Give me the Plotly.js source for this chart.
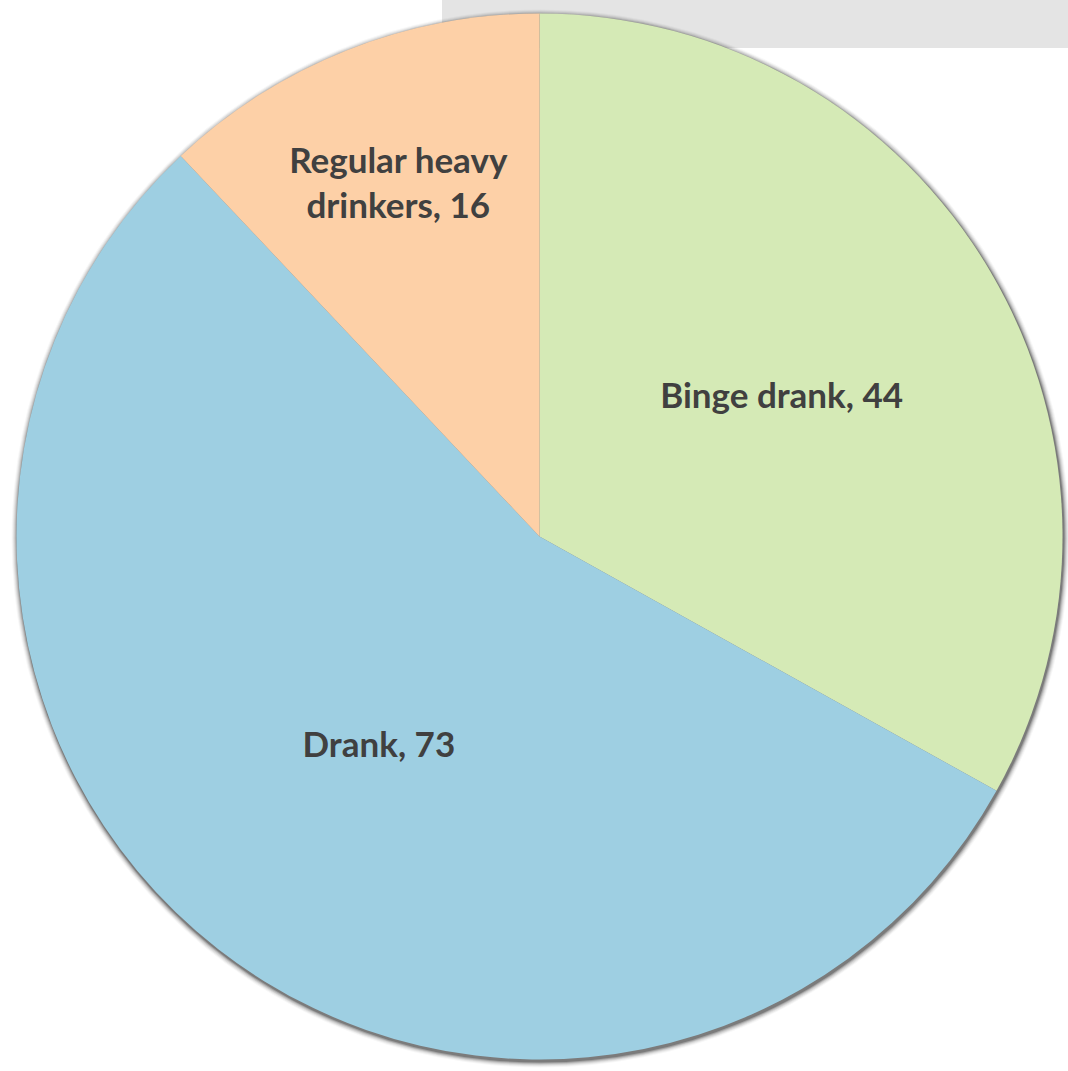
<!DOCTYPE html>
<html>
<head>
<meta charset="utf-8">
<script src="https://cdn.plot.ly/plotly-3.0.1.min.js"></script>
<style>html,body{margin:0;padding:0;background:#fff;}#chart{width:1068px;height:1071px;}</style>
</head>
<body>
<div id="chart"></div>
<script>
var categories = ["Binge drank", "Drank", "Regular heavy drinkers"];
var labelText = ["Binge drank", "Drank", "Regular heavy<br>drinkers"];
var values = [44, 73, 16];
var colors = ["#d5eab6", "#9ecfe2", "#fdd0a7"];

var W = 1068, H = 1071;
var cx = 539.5, cy = 536.5, r = 523;
function px(x){ return x / W; }
function py(y){ return 1 - y / H; }

var shadowShapes = [];
var shadowSteps = [[6, 0.03], [5, 0.05], [4, 0.07], [3, 0.10], [2, 0.16], [1, 0.24]];
shadowSteps.forEach(function(s){
  var rr = r + s[0];
  shadowShapes.push({
    type: "circle", xref: "paper", yref: "paper", layer: "below",
    x0: px(cx + 1 - rr), x1: px(cx + 1 + rr), y0: py(cy + 2 + rr), y1: py(cy + 2 - rr),
    fillcolor: "rgba(0,0,0," + s[1] + ")", line: {width: 0}
  });
});

var shapes = [{
  type: "rect", xref: "paper", yref: "paper", layer: "below",
  x0: px(442), x1: 1, y0: py(48), y1: 1,
  fillcolor: "#e4e4e4", line: {width: 0}
}].concat(shadowShapes);

var trace = {
  type: "pie",
  labels: categories,
  values: values,
  text: labelText,
  texttemplate: "%{text}, %{value}",
  textposition: "inside",
  insidetextorientation: "horizontal",
  sort: false,
  direction: "clockwise",
  rotation: 0,
  marker: {colors: colors, line: {width: 0}},
  textfont: {family: "Lato, 'Open Sans', sans-serif", size: 35, color: "#404040", weight: "bold"},
  hoverinfo: "label+value",
  domain: {x: [px(cx - r), px(cx + r)], y: [py(cy + r), py(cy - r)]},
  showlegend: false
};

var layout = {
  width: W, height: H,
  margin: {l: 0, r: 0, t: 0, b: 0},
  paper_bgcolor: "#ffffff",
  showlegend: false,
  shapes: shapes
};

Plotly.newPlot("chart", [trace], layout, {displayModeBar: false, staticPlot: true});
</script>
</body>
</html>
